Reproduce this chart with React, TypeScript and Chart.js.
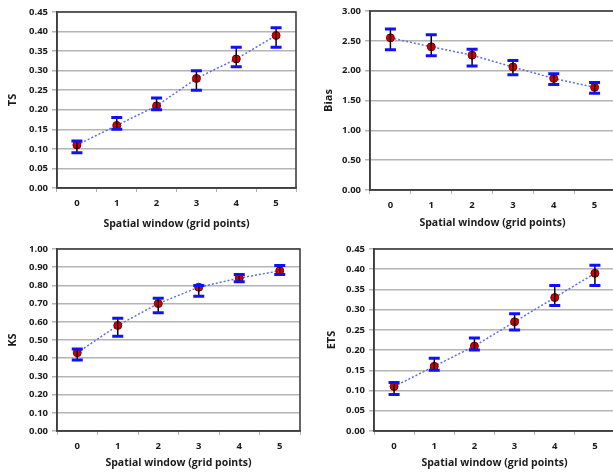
import React, { useEffect, useRef } from "react";
import { Chart, registerables } from "chart.js";

Chart.register(...registerables);

const categories = ["0", "1", "2", "3", "4", "5"];
const xTitle = "Spatial window (grid points)";

const tsValues = [0.11, 0.16, 0.21, 0.28, 0.33, 0.39];
const tsLow = [0.09, 0.15, 0.20, 0.25, 0.31, 0.36];
const tsHigh = [0.12, 0.18, 0.23, 0.30, 0.36, 0.41];

const biasValues = [2.55, 2.40, 2.26, 2.06, 1.87, 1.72];
const biasLow = [2.35, 2.25, 2.08, 1.93, 1.77, 1.62];
const biasHigh = [2.70, 2.60, 2.36, 2.17, 1.95, 1.80];

const ksValues = [0.43, 0.58, 0.70, 0.79, 0.84, 0.88];
const ksLow = [0.39, 0.52, 0.65, 0.74, 0.82, 0.86];
const ksHigh = [0.45, 0.62, 0.73, 0.80, 0.86, 0.91];

const etsValues = [0.11, 0.16, 0.21, 0.27, 0.33, 0.39];
const etsLow = [0.09, 0.15, 0.20, 0.25, 0.31, 0.36];
const etsHigh = [0.12, 0.18, 0.23, 0.29, 0.36, 0.41];

const FONT = "'Open Sans', 'DejaVu Sans', sans-serif";
const TICK_SIZE = 9.5;
const TITLE_SIZE = 10.5;

type Panel = {
  yTitle: string;
  values: number[];
  low: number[];
  high: number[];
  yMax: number;
  yStep: number;
  canvasLeft: number;
  canvasTop: number;
  canvasW: number;
  canvasH: number;
  areaLeft: number;
  areaTop: number;
  areaRight: number;
  areaBottom: number;
  yTitleX: number;
  xTitleY: number;
};

const panels: Panel[] = [
  {
    yTitle: "TS", values: tsValues, low: tsLow, high: tsHigh, yMax: 0.45, yStep: 0.05,
    canvasLeft: 0, canvasTop: 0, canvasW: 306, canvasH: 236,
    areaLeft: 57, areaTop: 12, areaRight: 296, areaBottom: 188, yTitleX: 13, xTitleY: 224,
  },
  {
    yTitle: "Bias", values: biasValues, low: biasLow, high: biasHigh, yMax: 3.0, yStep: 0.5,
    canvasLeft: 306, canvasTop: 0, canvasW: 314, canvasH: 236,
    areaLeft: 370, areaTop: 11, areaRight: 617, areaBottom: 190, yTitleX: 329, xTitleY: 223,
  },
  {
    yTitle: "KS", values: ksValues, low: ksLow, high: ksHigh, yMax: 1.0, yStep: 0.1,
    canvasLeft: 0, canvasTop: 236, canvasW: 306, canvasH: 236,
    areaLeft: 57, areaTop: 249, areaRight: 300, areaBottom: 431, yTitleX: 13, xTitleY: 463,
  },
  {
    yTitle: "ETS", values: etsValues, low: etsLow, high: etsHigh, yMax: 0.45, yStep: 0.05,
    canvasLeft: 306, canvasTop: 236, canvasW: 314, canvasH: 236,
    areaLeft: 374, areaTop: 249, areaRight: 616, areaBottom: 431, yTitleX: 332, xTitleY: 463,
  },
];

const framePlugin = {
  id: "frame",
  afterDraw(chart: any) {
    const { ctx, chartArea } = chart;
    ctx.save();
    ctx.strokeStyle = "#3f3f3f";
    ctx.lineWidth = 1.6;
    ctx.strokeRect(chartArea.left, chartArea.top, chartArea.right - chartArea.left, chartArea.bottom - chartArea.top);
    ctx.restore();
  },
};

const errorBarPlugin = {
  id: "errorBars",
  afterDatasetsDraw(chart: any, _args: any, opts: any) {
    const { ctx } = chart;
    const meta = chart.getDatasetMeta(0);
    const yScale = chart.scales.y;
    const low: number[] = opts.low;
    const high: number[] = opts.high;
    ctx.save();
    meta.data.forEach((pt: any, i: number) => {
      const x = pt.x;
      const yl = yScale.getPixelForValue(low[i]);
      const yh = yScale.getPixelForValue(high[i]);
      ctx.strokeStyle = "#000000";
      ctx.lineWidth = 1.5;
      ctx.beginPath();
      ctx.moveTo(x, yl);
      ctx.lineTo(x, yh);
      ctx.stroke();
      ctx.strokeStyle = "#1010ff";
      ctx.lineWidth = 3;
      ctx.beginPath();
      ctx.moveTo(x - 5.5, yl);
      ctx.lineTo(x + 5.5, yl);
      ctx.moveTo(x - 5.5, yh);
      ctx.lineTo(x + 5.5, yh);
      ctx.stroke();
    });
    ctx.restore();
  },
};

function PanelChart({ p }: { p: Panel }) {
  const ref = useRef<HTMLCanvasElement | null>(null);
  useEffect(() => {
    if (!ref.current) return;
    const yAxisW = p.areaLeft - p.canvasLeft;
    const xAxisH = p.canvasTop + p.canvasH - p.areaBottom;
    const titleLH = TITLE_SIZE * 1.2;
    const yTitlePad = p.yTitleX - p.canvasLeft - titleLH / 2;
    const xTitlePad = p.canvasTop + p.canvasH - p.xTitleY - titleLH / 2;
    const chart = new Chart(ref.current, {
      type: "line",
      data: {
        labels: categories,
        datasets: [
          {
            data: p.values,
            borderColor: "#5b6cf0",
            borderWidth: 1.5,
            borderDash: [2, 2],
            pointRadius: 4,
            pointBackgroundColor: "#d40000",
            pointBorderColor: "#7a0000",
            pointBorderWidth: 1,
            tension: 0,
            fill: false,
          },
        ],
      },
      options: {
        animation: false,
        responsive: false,
        maintainAspectRatio: false,
        layout: {
          padding: {
            left: 0,
            top: p.areaTop - p.canvasTop,
            right: p.canvasLeft + p.canvasW - p.areaRight,
            bottom: 0,
          },
        },
        plugins: {
          legend: { display: false },
          tooltip: { enabled: false },
          errorBars: { low: p.low, high: p.high },
        } as any,
        scales: {
          x: {
            type: "category",
            offset: true,
            grid: {
              offset: true,
              drawOnChartArea: false,
              drawTicks: true,
              tickLength: 4,
              color: "#b0b0b0",
              lineWidth: 1,
            },
            border: { display: true, color: "#3f3f3f", width: 1.6 },
            ticks: {
              color: "#1a1a1a",
              font: { family: FONT, size: TICK_SIZE, weight: "bold" },
              padding: 6,
              maxRotation: 0,
            },
            title: {
              display: true,
              text: xTitle,
              color: "#1a1a1a",
              font: { family: FONT, size: TITLE_SIZE, weight: "bold" },
              padding: { top: 0, bottom: xTitlePad },
            },
            afterFit: (s: any) => {
              s.height = xAxisH;
            },
          },
          y: {
            min: 0,
            max: p.yMax,
            ticks: {
              stepSize: p.yStep,
              color: "#1a1a1a",
              font: { family: FONT, size: TICK_SIZE, weight: "bold" },
              padding: 4,
              callback: (v: any) => Number(v).toFixed(2),
            },
            grid: {
              color: "#b4b4b4",
              lineWidth: 1.5,
              drawTicks: true,
              tickLength: 5,
            },
            border: { display: true, color: "#3f3f3f", width: 1.6 },
            title: {
              display: true,
              text: p.yTitle,
              color: "#1a1a1a",
              font: { family: FONT, size: TITLE_SIZE + 0.5, weight: "bold" },
              padding: { top: yTitlePad, bottom: 0 },
            },
            afterFit: (s: any) => {
              s.width = yAxisW;
            },
          },
        },
      },
      plugins: [framePlugin, errorBarPlugin],
    });
    return () => chart.destroy();
  }, [p]);
  return (
    <canvas
      ref={ref}
      width={p.canvasW}
      height={p.canvasH}
      style={{
        position: "absolute",
        left: p.canvasLeft,
        top: p.canvasTop,
        width: p.canvasW,
        height: p.canvasH,
      }}
    />
  );
}

export default function App() {
  return (
    <div
      style={{
        position: "fixed",
        left: 0,
        top: 0,
        width: 613,
        height: 472,
        overflow: "hidden",
        background: "#ffffff",
      }}
    >
      {panels.map((p, i) => (
        <PanelChart key={i} p={p} />
      ))}
    </div>
  );
}
